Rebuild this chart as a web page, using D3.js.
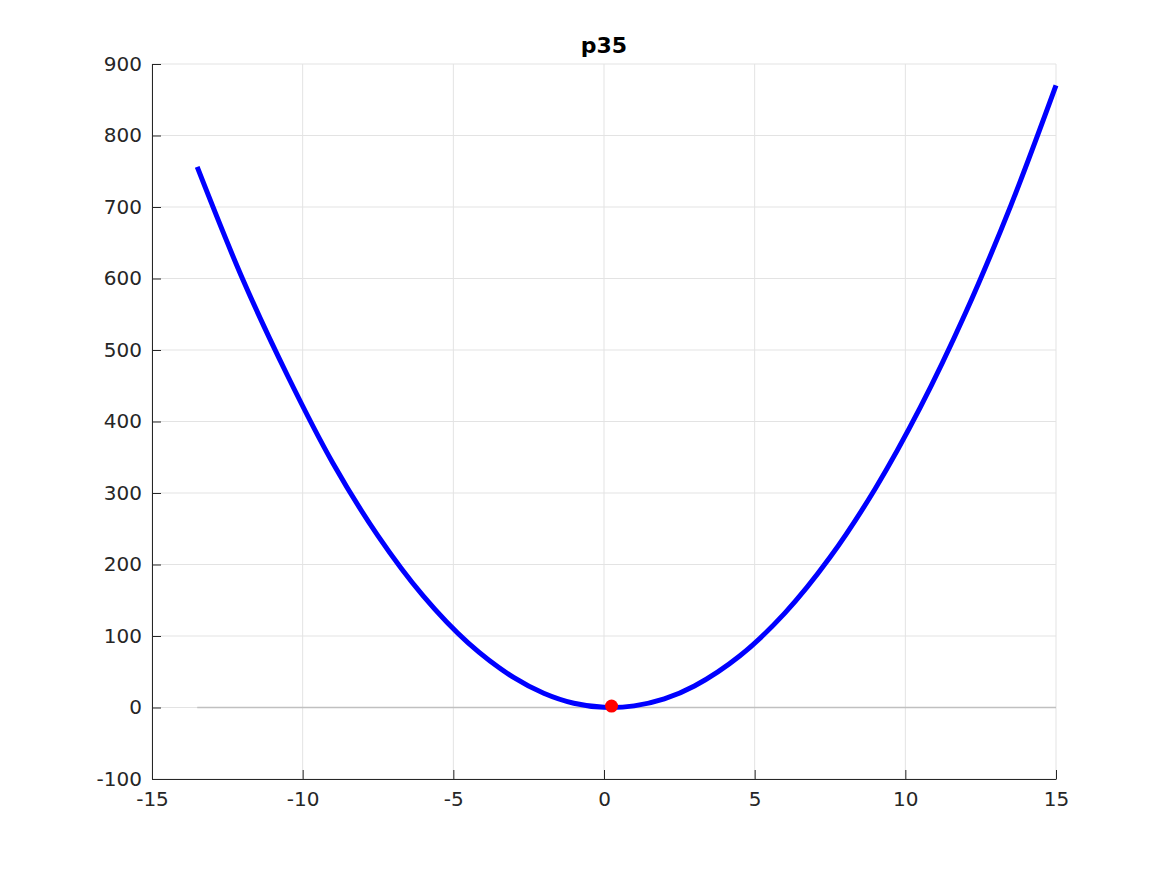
<!DOCTYPE html>
<html lang="en">
<head>
<meta charset="utf-8">
<title>p35</title>
<script src="https://d3js.org/d3.v7.min.js"></script>
<style>
  body { margin: 0; background: #fff; }
  text { font-family: "DejaVu Sans", sans-serif; }
</style>
</head>
<body>
<script>
// curve samples
var xVals = [-13.5, -12, -10.5, -9, -7.5, -6, -4.5, -3, -2, -1, 0, 1, 2, 3, 4.5, 6, 7.5, 9, 10.5, 12, 13.5, 15];
var yVals = [756, 600, 464, 342, 240, 156, 90, 42, 20, 6, 0.3, 2.3, 12, 30, 72, 132, 210, 306, 420, 552, 702, 870];
// marked minimum
var minPoint = [0.25, 2];
// zero reference line
var zeroLine = [-13.5, 15];
var xTicks = [-15, -10, -5, 0, 5, 10, 15];
var yTicks = [-100, 0, 100, 200, 300, 400, 500, 600, 700, 800, 900];

var w = 1167, h = 875;
var padL = 152, padR = 1056, padT = 64, padB = 779;

var svg = d3.select("body").append("svg")
  .attr("width", w)
  .attr("height", h);

var x = d3.scaleLinear().domain([-15, 15]).range([padL, padR]);
var y = d3.scaleLinear().domain([-100, 900]).range([padB, padT]);

// grid
svg.append("g").selectAll("line").data(xTicks).enter().append("line")
  .attr("x1", d => x(d)).attr("x2", d => x(d))
  .attr("y1", padT).attr("y2", padB)
  .attr("stroke", "#e3e3e3").attr("stroke-width", 1);
svg.append("g").selectAll("line").data(yTicks).enter().append("line")
  .attr("y1", d => y(d)).attr("y2", d => y(d))
  .attr("x1", padL).attr("x2", padR)
  .attr("stroke", "#e3e3e3").attr("stroke-width", 1);

// axes
var fmt = d => String(d);
var xAxis = d3.axisBottom(x).tickValues(xTicks).tickFormat(fmt).tickSizeInner(-9).tickSizeOuter(0);
var yAxis = d3.axisLeft(y).tickValues(yTicks).tickFormat(fmt).tickSizeInner(-9).tickSizeOuter(0);

var gx = svg.append("g").attr("transform", "translate(0," + padB + ")").call(xAxis);
var gy = svg.append("g").attr("transform", "translate(" + padL + ",0)").call(yAxis);
[gx, gy].forEach(function(g) {
  g.select(".domain").attr("stroke", "#262626").attr("stroke-width", 1);
  g.selectAll(".tick line").attr("stroke", "#262626");
  g.selectAll(".tick text").attr("fill", "#262626").attr("font-size", 20)
    .attr("font-family", "'DejaVu Sans', sans-serif");
});
gx.selectAll(".tick text").attr("y", 13);
gy.selectAll(".tick text").attr("x", -10);

// zero line
svg.append("line")
  .attr("x1", x(zeroLine[0])).attr("x2", x(zeroLine[1]))
  .attr("y1", y(0)).attr("y2", y(0))
  .attr("stroke", "#c0c0c0").attr("stroke-width", 1.5);

// curve
var pts = xVals.map((d, i) => [d, yVals[i]]);
svg.append("path")
  .datum(pts)
  .attr("fill", "none")
  .attr("stroke", "#0000ff")
  .attr("stroke-width", 5)
  .attr("d", d3.line().x(d => x(d[0])).y(d => y(d[1])).curve(d3.curveCatmullRom));

// min marker
svg.append("circle")
  .attr("cx", x(minPoint[0])).attr("cy", y(minPoint[1]))
  .attr("r", 6.5).attr("fill", "#ff0000");

// title
svg.append("text")
  .attr("x", (padL + padR) / 2).attr("y", 53)
  .attr("text-anchor", "middle")
  .attr("font-size", 22).attr("font-weight", "bold")
  .attr("fill", "#000")
  .text("p35");
</script>
</body>
</html>
